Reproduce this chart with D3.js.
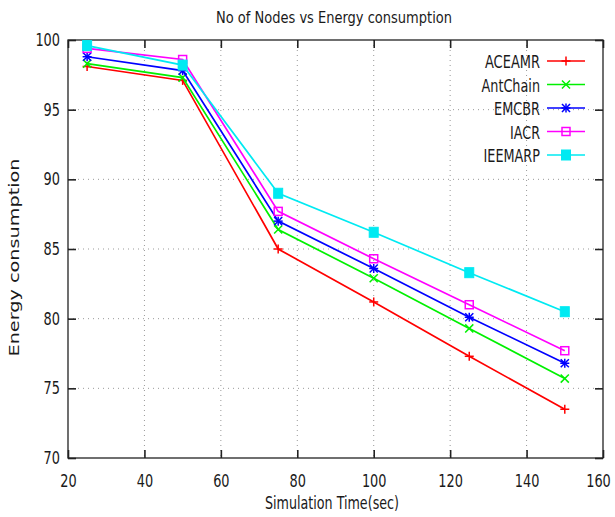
<!DOCTYPE html>
<html>
<head>
<meta charset="utf-8">
<script src="https://cdn.jsdelivr.net/npm/d3@7/dist/d3.min.js"></script>
<style>
  html, body { margin: 0; padding: 0; background: #fff; }
  svg { display: block; }
  text { font-family: "DejaVu Sans Condensed", "DejaVu Sans", sans-serif; fill: #1a1a1a; }
</style>
</head>
<body>
<svg id="chart" width="615" height="517"></svg>
<script>
// Simulation time (sec) at which each protocol was measured
const times = [25, 50, 75, 100, 125, 150];

// Energy consumption per protocol
const aceamr   = [98.1, 97.1, 85.0, 81.2, 77.3, 73.5];
const antChain = [98.3, 97.3, 86.4, 82.9, 79.3, 75.7];
const emcbr    = [98.8, 97.8, 87.0, 83.6, 80.1, 76.8];
const iacr     = [99.4, 98.6, 87.7, 84.3, 81.0, 77.7];
const ieemarp  = [99.6, 98.2, 89.0, 86.2, 83.3, 80.5];

const seriesNames = ["ACEAMR", "AntChain", "EMCBR", "IACR", "IEEMARP"];
const seriesValues = [aceamr, antChain, emcbr, iacr, ieemarp];

const xTicks = [20, 40, 60, 80, 100, 120, 140, 160];
const yTicks = [70, 75, 80, 85, 90, 95, 100];

const titleText = "No of Nodes vs Energy consumption";
const xLabel = "Simulation Time(sec)";
const yLabel = "Energy consumption";

const colors = ["#ff0000", "#00f000", "#0000ff", "#ff00ff", "#00eaf2"];
const markerKinds = ["plus", "cross", "star", "box", "fbox"];

const svg = d3.select("#chart");
const plot = { left: 68, right: 603, top: 40, bottom: 458 };

const x = d3.scaleLinear().domain([20, 160]).range([plot.left, plot.right]);
const y = d3.scaleLinear().domain([70, 100]).range([plot.bottom, plot.top]);

// narrow, tall lettering: squeeze a text to a fixed width
function fit(sel, width) {
  return sel.attr("textLength", width).attr("lengthAdjust", "spacingAndGlyphs");
}

// dotted grid
const grid = svg.append("g");
grid.selectAll(".gx").data(xTicks.slice(1, -1)).join("line")
  .attr("x1", d => x(d)).attr("x2", d => x(d))
  .attr("y1", plot.top).attr("y2", plot.bottom)
  .attr("stroke", "#999").attr("stroke-width", 1).attr("stroke-dasharray", "1,4");
grid.selectAll(".gy").data(yTicks.slice(1, -1)).join("line")
  .attr("y1", d => y(d)).attr("y2", d => y(d))
  .attr("x1", plot.left).attr("x2", plot.right)
  .attr("stroke", "#999").attr("stroke-width", 1).attr("stroke-dasharray", "1,4");

// axes with inward ticks on all four sides
const tickLen = 8;
const digitW = 8.2;
const axisStyle = g => {
  g.select(".domain").remove();
  g.selectAll(".tick line").attr("stroke", "#222").attr("stroke-width", 1.6);
  g.selectAll("text").style("font-size", "17px").attr("fill", "#1a1a1a")
    .each(function () {
      const t = d3.select(this);
      if (t.text()) fit(t, t.text().length * digitW);
    });
};

const xAxisG = svg.append("g").attr("transform", `translate(0,${plot.bottom})`)
  .call(d3.axisBottom(x).tickValues(xTicks).tickSize(-tickLen).tickPadding(17).tickFormat(d3.format("d")))
  .call(axisStyle);
// keep the last label inside the frame
xAxisG.selectAll(".tick text").filter(d => d === xTicks[xTicks.length - 1]).attr("x", -5);

svg.append("g").attr("transform", `translate(0,${plot.top})`)
  .call(d3.axisTop(x).tickValues(xTicks).tickSize(-tickLen).tickFormat(""))
  .call(axisStyle);
svg.append("g").attr("transform", `translate(${plot.left},0)`)
  .call(d3.axisLeft(y).tickValues(yTicks).tickSize(-tickLen).tickPadding(8).tickFormat(d3.format("d")))
  .call(axisStyle);
svg.append("g").attr("transform", `translate(${plot.right},0)`)
  .call(d3.axisRight(y).tickValues(yTicks).tickSize(-tickLen).tickFormat(""))
  .call(axisStyle);

// plot border
svg.append("rect")
  .attr("x", plot.left).attr("y", plot.top)
  .attr("width", plot.right - plot.left).attr("height", plot.bottom - plot.top)
  .attr("fill", "none").attr("stroke", "#222").attr("stroke-width", 1.3);

// marker drawing
function drawMarker(g, kind, cx, cy, color) {
  const s = 4.5;
  if (kind === "plus" || kind === "star") {
    g.append("line").attr("x1", cx - s).attr("x2", cx + s).attr("y1", cy).attr("y2", cy)
      .attr("stroke", color).attr("stroke-width", 1.5);
    g.append("line").attr("x1", cx).attr("x2", cx).attr("y1", cy - s).attr("y2", cy + s)
      .attr("stroke", color).attr("stroke-width", 1.5);
  }
  if (kind === "cross" || kind === "star") {
    const c = s * 0.9;
    g.append("line").attr("x1", cx - c).attr("x2", cx + c).attr("y1", cy - c).attr("y2", cy + c)
      .attr("stroke", color).attr("stroke-width", 1.5);
    g.append("line").attr("x1", cx - c).attr("x2", cx + c).attr("y1", cy + c).attr("y2", cy - c)
      .attr("stroke", color).attr("stroke-width", 1.5);
  }
  if (kind === "box") {
    g.append("rect").attr("x", cx - 4).attr("y", cy - 4).attr("width", 8).attr("height", 8)
      .attr("fill", "none").attr("stroke", color).attr("stroke-width", 1.5);
  }
  if (kind === "fbox") {
    g.append("rect").attr("x", cx - 4.5).attr("y", cy - 5).attr("width", 9).attr("height", 10)
      .attr("fill", color).attr("stroke", color).attr("stroke-width", 1);
  }
}

// series lines and markers
const line = d3.line().x((d, i) => x(times[i])).y(d => y(d));
seriesValues.forEach((vals, k) => {
  const g = svg.append("g");
  g.append("path").datum(vals).attr("d", line)
    .attr("fill", "none").attr("stroke", colors[k]).attr("stroke-width", 1.7);
  vals.forEach((v, i) => drawMarker(g, markerKinds[k], x(times[i]), y(v), colors[k]));
});

// legend
const legendWidths = [55, 58.5, 46, 30, 56.5];
const legend = svg.append("g");
seriesNames.forEach((name, k) => {
  const ly = 61 + k * 23.5;
  legend.append("text").attr("x", 540).attr("y", ly + 7)
    .attr("text-anchor", "end").style("font-size", "18px").text(name)
    .call(fit, legendWidths[k]);
  legend.append("line").attr("x1", 547).attr("x2", 585).attr("y1", ly).attr("y2", ly)
    .attr("stroke", colors[k]).attr("stroke-width", 1.7);
  drawMarker(legend, markerKinds[k], 566, ly, colors[k]);
});

// title and axis labels
svg.append("text").attr("x", 334).attr("y", 22.7).attr("text-anchor", "middle")
  .style("font-size", "16px").text(titleText).call(fit, 236);
svg.append("text").attr("x", 332).attr("y", 509).attr("text-anchor", "middle")
  .style("font-size", "17px").text(xLabel).call(fit, 134);
svg.append("text").attr("transform", `translate(18.5,257.5) rotate(-90)`)
  .attr("text-anchor", "middle").style("font-size", "14px")
  .style("font-family", "'DejaVu Sans', sans-serif").text(yLabel).call(fit, 198);
</script>
</body>
</html>
